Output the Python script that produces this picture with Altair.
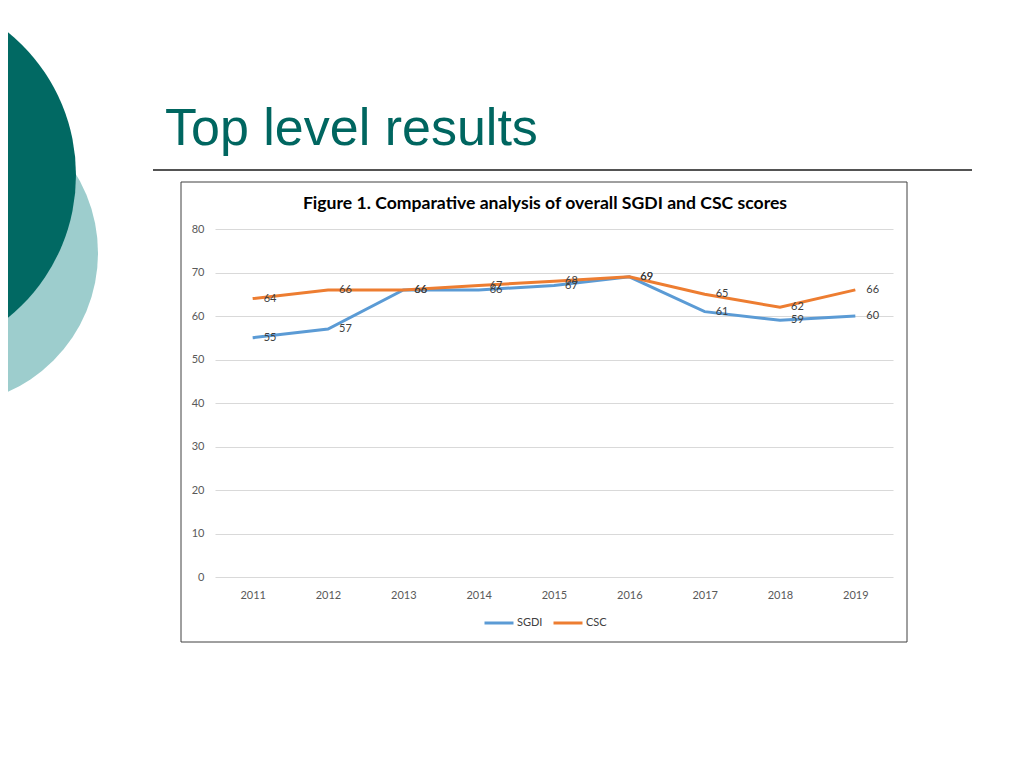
import altair as alt
import pandas as pd

years = ["2011", "2012", "2013", "2014", "2015", "2016", "2017", "2018", "2019"]
sgdi = [55, 57, 66, 66, 67, 69, 61, 59, 60]
csc = [64, 66, 66, 67, 68, 69, 65, 62, 66]
series = ["SGDI", "CSC"]
colors = ["#5B9BD5", "#ED7D31"]

slide_title = "Top level results"
chart_title = "Figure 1. Comparative analysis of overall SGDI and CSC scores"

rows = []
for name, vals in zip(series, [sgdi, csc]):
    for y, v in zip(years, vals):
        rows.append({"Year": y, "Score": v, "Series": name})
df = pd.DataFrame(rows)
dummy = pd.DataFrame({"d": [0]})

FONT = "Lato"
TEAL = "#006660"

x_enc = alt.X("Year:O", sort=years,
              scale=alt.Scale(type="point", padding=0.5),
              axis=alt.Axis(title=None, labelAngle=0, ticks=False, domain=False,
                            labelPadding=12, labelFontSize=11, labelColor="#595959",
                            labelFont=FONT, grid=False))
y_enc = alt.Y("Score:Q", scale=alt.Scale(domain=[0, 80]),
              axis=alt.Axis(title=None, values=[0, 10, 20, 30, 40, 50, 60, 70, 80],
                            ticks=False, domain=False, grid=True, gridColor="#D9D9D9",
                            labelPadding=11, labelFontSize=11, labelColor="#595959",
                            labelFont=FONT))

light_circle = alt.Chart(dummy).mark_circle(color="#9DCDCD", opacity=1).encode(
    x=alt.value(-269), y=alt.value(24), size=alt.value((2 * 152) ** 2))
dark_circle = alt.Chart(dummy).mark_circle(color="#016963", opacity=1).encode(
    x=alt.value(-323), y=alt.value(-54), size=alt.value((2 * 184) ** 2))

title_text = alt.Chart(dummy).mark_text(
    text=slide_title, font="Liberation Sans", fontSize=52, color=TEAL,
    align="left", baseline="alphabetic").encode(x=alt.value(-50), y=alt.value(-84))

hr = alt.Chart(dummy).mark_rule(color="#1a1a1a", strokeWidth=1.5).encode(
    x=alt.value(-62), x2=alt.value(757), y=alt.value(-59))

frame = alt.Chart(dummy).mark_rect(fillOpacity=0, stroke="#404040", strokeWidth=1).encode(
    x=alt.value(-34), x2=alt.value(692), y=alt.value(-47), y2=alt.value(413))

ctitle = alt.Chart(dummy).mark_text(
    text=chart_title, font=FONT, fontSize=17.6, fontWeight="bold", color="#000000",
    align="center", baseline="alphabetic").encode(x=alt.value(330), y=alt.value(-20))

lines = alt.Chart(df).mark_line(strokeWidth=3).encode(
    x=x_enc, y=y_enc,
    color=alt.Color("Series:N", sort=series,
                    scale=alt.Scale(domain=series, range=colors),
                    legend=alt.Legend(title=None, orient="none", legendX=268, legendY=378,
                                      direction="horizontal", symbolType="stroke",
                                      symbolSize=841, symbolStrokeWidth=3,
                                      labelFont=FONT, labelFontSize=11,
                                      labelColor="#404040", labelOffset=2,
                                      columnPadding=4)),
    order=alt.Order("Year:O"))

labels = alt.Chart(df).mark_text(align="left", baseline="middle", dx=11,
                                 font=FONT, fontSize=11, color="#404040").encode(
    x=alt.X("Year:O", sort=years), y="Score:Q", text="Score:Q")

chart = alt.layer(light_circle, dark_circle, title_text, hr, frame, ctitle, lines, labels).properties(
    width=678, height=348,
    autosize=alt.AutoSizeParams(type="none"),
    padding={"left": 207, "top": 221, "right": 123, "bottom": 183},
    background="white",
).configure_view(stroke=None)

chart.save("out.html", embed_options={"renderer": "svg", "actions": False})
